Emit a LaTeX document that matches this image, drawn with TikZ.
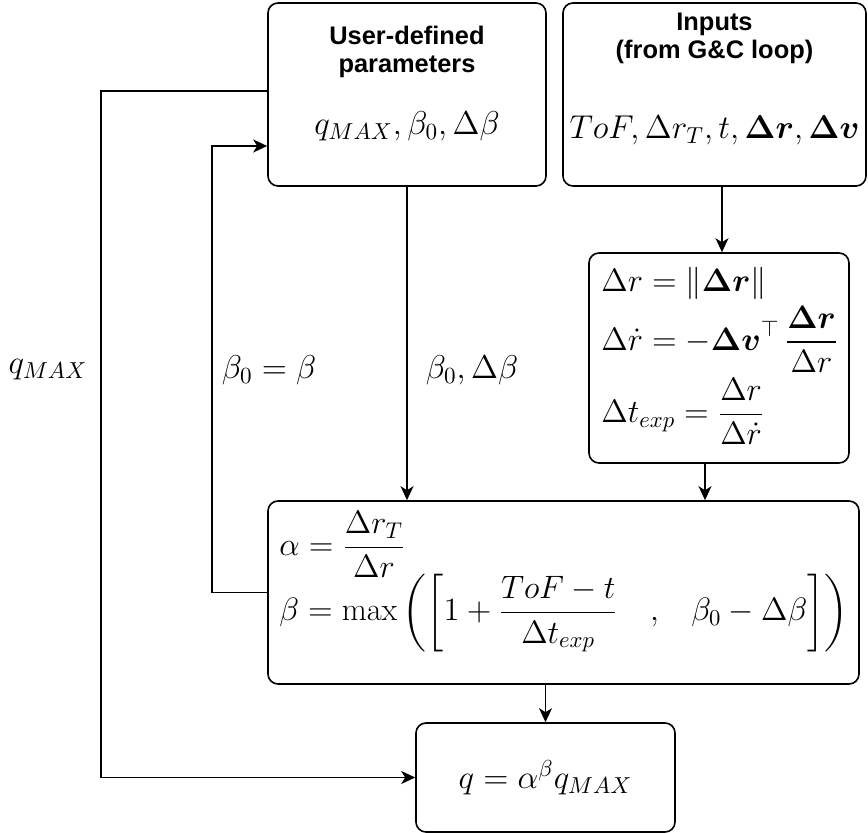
\documentclass[tikz,border=0pt]{standalone}
\usepackage{fix-cm}
\usepackage{amsmath,amssymb}
\usepackage{fontspec}
\newfontfamily\headfont{Liberation Sans}
\usetikzlibrary{arrows.meta}
\tikzset{
  block/.style={draw,line width=0.8pt,rounded corners=5pt,inner sep=0pt},
  heading/.style={font=\headfont\bfseries\fontsize{12.7}{14}\selectfont,align=center},
  formula/.style={font=\fontsize{16.5}{19}\selectfont},
  boxformula/.style={font=\fontsize{16.2}{19}\selectfont,anchor=west,inner sep=1pt},
  link/.style={-{Stealth[length=7pt,width=6.5pt,inset=2pt]},line width=0.8pt},
}

\begin{document}
\begin{tikzpicture}[x=0.5pt,y=-0.5pt]
    \useasboundingbox (0,0) rectangle (868,833);
    \node [block,minimum width=139pt,minimum height=91.5pt] (params) at (407,94.5) {};
    \node [block,minimum width=151.5pt,minimum height=91.5pt] (inputs) at (714.5,94.5) {};
    \node [block,minimum width=130pt,minimum height=105pt] (derived) at (719,358) {};
    \node [block,minimum width=295.5pt,minimum height=91.5pt] (weights) at (563.5,592.5) {};
    \node [block,minimum width=129.5pt,minimum height=54.5pt] (gain) at (545.5,777.5) {};

    \node [heading] (paramstitle) at (407,52) {User-defined\\parameters};
    \node [formula] (paramsvals) at (407,126) {$q_{MAX}, \beta_0, \Delta\beta$};
    \node [heading] (inputstitle) at (714.5,38) {Inputs\\(from G\&C loop)};
    \node [formula] (inputsvals) at (714.5,130)
      {$ToF, \Delta r_T, t, \boldsymbol{\Delta r}, \boldsymbol{\Delta v}$};

    \node [boxformula,align=left] (derivtext) at (599,356)
      {$\Delta r = \|\boldsymbol{\Delta r}\|$\\[2pt]
       $\displaystyle \Delta\dot{r} = -\boldsymbol{\Delta v}^{\top}\,
        \frac{\boldsymbol{\Delta r}}{\Delta r}$\\[2pt]
       $\displaystyle \Delta t_{exp} = \frac{\Delta r}{\Delta\dot{r}}$};

    \node [boxformula,align=left] (weighttext) at (277,582)
      {$\displaystyle \alpha = \frac{\Delta r_T}{\Delta r}$\\[-3pt]
       $\displaystyle \beta = \max\left(\left[1+\frac{ToF-t}{\Delta t_{exp}}
        \quad{,}\quad \beta_0-\Delta\beta\right]\right)$};

    \node [formula] (qout) at (545.5,778) {$q = \alpha^{\beta} q_{MAX}$};

    \draw [link] ([xshift=3.75pt]inputs.south) -- ([xshift=3.75pt]inputs.south |- derived.north);
    \draw [link] ([xshift=-7pt]derived.south) -- ([xshift=-7pt]derived.south |- weights.north);
    \draw [link] (params.south) -- (params.south |- weights.north);
    \draw [link] (weights.south -| gain.north) -- (gain.north);
    \draw [link] (weights.west) -- ++(-27.5pt,0) |- ([yshift=-25.75pt]params.west);
    \draw [link] ([yshift=1.75pt]params.west) -- ++(-83pt,0) |- (gain.west);

    \node [formula] (qmaxlbl) at (48,370) {$q_{MAX}$};
    \node [formula] (betalbl) at (269,370) {$\beta_0 = \beta$};
    \node [formula] (deltalbl) at (472,370) {$\beta_0, \Delta\beta$};
\end{tikzpicture}
\end{document}
